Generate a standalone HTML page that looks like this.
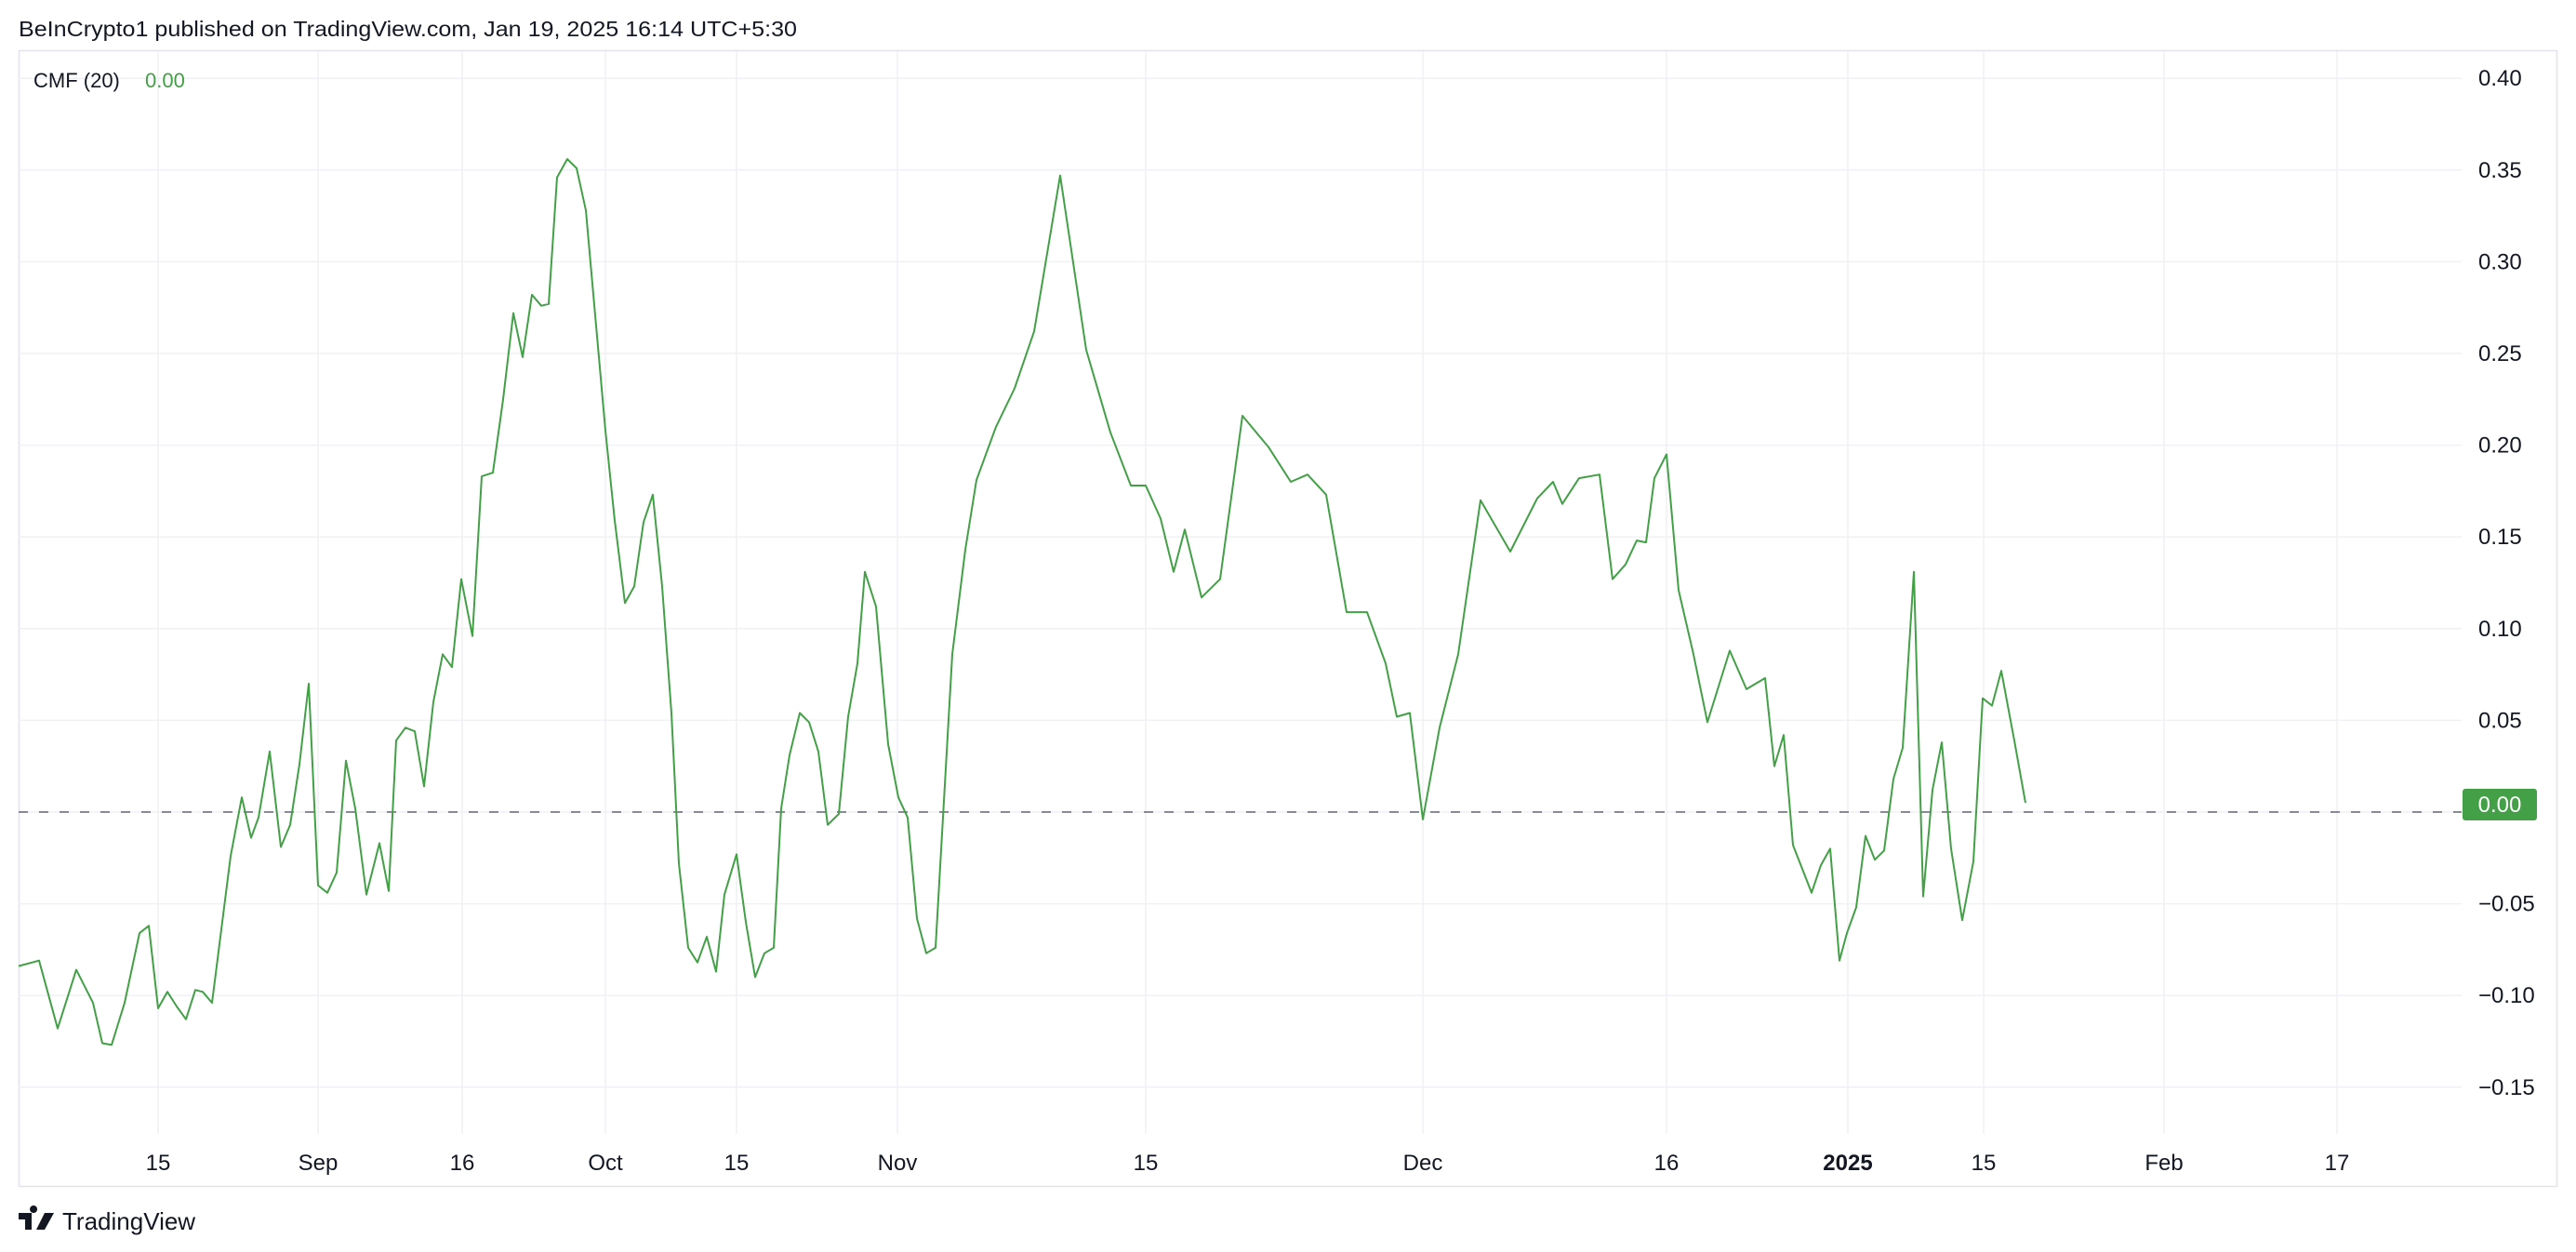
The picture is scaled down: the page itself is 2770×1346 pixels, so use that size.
<!DOCTYPE html>
<html><head><meta charset="utf-8"><style>
html,body{margin:0;padding:0;background:#fff;}
svg{display:block;font-family:"Liberation Sans",Arial,sans-serif;}
</style></head><body>
<svg id="chart" width="2770" height="1346" viewBox="0 0 2770 1346" xmlns="http://www.w3.org/2000/svg">
<rect x="0" y="0" width="2770" height="1346" fill="#fff"/>
<text x="20" y="39" font-size="23" fill="#131722" textLength="837" lengthAdjust="spacingAndGlyphs">BeInCrypto1 published on TradingView.com, Jan 19, 2025 16:14 UTC+5:30</text>
<rect x="20.5" y="54.5" width="2729" height="1221" fill="none" stroke="#e0e3eb" stroke-width="1.5"/>
<g id="grid"></g>
<g id="yaxis"></g>
<g id="xaxis"></g>
<line x1="20" x2="2647" y1="873" y2="873" stroke="#787b86" stroke-width="1.8" stroke-dasharray="10 12"/>
<path id="cmf-line" fill="none" stroke="#43a047" stroke-width="2" stroke-linejoin="round"/>
<text x="36" y="94" font-size="22" fill="#131722">CMF (20)</text>
<text x="156" y="94" font-size="22" fill="#43a047">0.00</text>
<g>
<rect x="2648" y="848" width="80" height="34" rx="3" fill="#43a047"/>
<text x="2688" y="873" font-size="24" fill="#fff" text-anchor="middle">0.00</text>
</g>
<g>
<path d="M20 1304 h14 v18 h-7 v-11 h-7z M36 1304 a4 4 0 1 1 0.1 0z M48 1304 h10 l-10 18 h-9z" fill="#131722"/>
<text x="67" y="1322" font-size="26" fill="#131722">TradingView</text>
</g>
</svg>
<script>
const slots = [0.0,2.2,4.2,6.2,8.0,9.0,10.0,11.4,13.0,14.0,15.0,16.0,17.0,18.0,19.0,19.8,20.8,22.8,24.0,25.0,25.8,27.0,28.2,29.2,30.2,31.2,32.2,33.2,34.2,35.2,36.2,37.4,38.8,39.8,40.6,41.6,42.6,43.6,44.6,45.6,46.6,47.6,48.8,49.8,51.0,52.1,53.2,54.2,55.2,56.2,57.0,57.9,59.0,60.0,61.0,63.1,64.1,65.2,66.2,67.2,68.2,69.2,70.2,71.0,72.0,73.0,74.0,75.0,75.9,77.2,78.2,79.2,80.2,81.2,82.0,82.9,84.0,85.0,86.0,87.0,88.2,89.2,90.2,91.0,92.2,93.5,94.6,95.6,96.6,97.6,98.6,100.4,101.8,103.0,105.1,107.1,109.2,112.0,114.8,117.4,119.6,121.2,122.8,124.2,125.4,127.2,129.2,131.6,134.4,136.8,138.6,140.6,142.8,145.0,147.0,148.2,149.6,151.0,152.8,154.8,157.2,160.4,163.3,165.0,166.0,167.8,170.0,171.4,172.8,174.0,175.0,175.9,177.2,178.5,180.1,181.6,184.0,185.8,187.8,188.8,189.8,190.8,192.8,193.8,194.8,195.8,196.6,197.6,198.6,199.6,200.6,201.6,202.6,203.8,204.8,205.8,206.8,207.8,209.0,210.2,211.2,212.2,213.2,214.6,215.8];
const cmfValues = [-0.084,-0.081,-0.118,-0.086,-0.104,-0.126,-0.127,-0.104,-0.066,-0.062,-0.107,-0.098,-0.106,-0.113,-0.097,-0.098,-0.104,-0.024,0.008,-0.014,-0.003,0.033,-0.019,-0.007,0.026,0.070,-0.040,-0.044,-0.033,0.028,0.002,-0.045,-0.017,-0.043,0.039,0.046,0.044,0.014,0.060,0.086,0.079,0.127,0.096,0.183,0.185,0.225,0.272,0.248,0.282,0.276,0.277,0.346,0.356,0.351,0.328,0.208,0.159,0.114,0.123,0.158,0.173,0.123,0.054,-0.028,-0.074,-0.082,-0.068,-0.087,-0.045,-0.023,-0.060,-0.090,-0.077,-0.074,0.002,0.031,0.054,0.049,0.033,-0.007,-0.001,0.052,0.081,0.131,0.112,0.037,0.008,-0.003,-0.058,-0.077,-0.074,0.086,0.143,0.181,0.210,0.231,0.262,0.347,0.252,0.207,0.178,0.178,0.160,0.131,0.154,0.117,0.127,0.216,0.199,0.180,0.184,0.173,0.109,0.109,0.081,0.052,0.054,-0.004,0.046,0.086,0.170,0.142,0.171,0.180,0.168,0.182,0.184,0.127,0.135,0.148,0.147,0.182,0.195,0.121,0.086,0.049,0.088,0.067,0.073,0.025,0.042,-0.018,-0.044,-0.029,-0.020,-0.081,-0.066,-0.052,-0.013,-0.026,-0.021,0.018,0.035,0.131,-0.046,0.012,0.038,-0.020,-0.059,-0.027,0.062,0.058,0.077,0.039,0.005];
const yTicks = [0.40,0.35,0.30,0.25,0.20,0.15,0.10,0.05,0.00,-0.05,-0.10,-0.15];
const xTickLabels = ["15","Sep","16","Oct","15","Nov","15","Dec","16","2025","15","Feb","17"];
const xTickSlots = [15,32.2,47.7,63.1,77.2,94.5,121.2,151,177.2,196.7,211.3,230.7,249.3];

const NS = "http://www.w3.org/2000/svg";
function xs(s){ return 20 + s*10; }
function ys(v){ return 873 - v*1972; }
function mk(tag, attrs, parent){ const e=document.createElementNS(NS,tag); for(const k in attrs) e.setAttribute(k,attrs[k]); parent.appendChild(e); return e; }

const grid = document.getElementById('grid');
const yaxis = document.getElementById('yaxis');
const xaxis = document.getElementById('xaxis');
yTicks.forEach(v=>{
  const y = ys(v);
  const gl = mk('line',{x1:20,x2:2647,y1:y,y2:y,stroke:'#f0f1f4','stroke-width':1.5},grid);
  
  
  if (Math.abs(v) > 1e-9) {
    const t = mk('text',{x:2665,y:y+8,'font-size':24,fill:'#131722'},yaxis);
    t.textContent = (v<0?'\u22120':'')+(v<0?Math.abs(v).toFixed(2).slice(1):v.toFixed(2));
    
    
  }
});
xTickSlots.forEach((s,i)=>{
  const x = xs(s);
  const gl = mk('line',{x1:x,x2:x,y1:55,y2:1219,stroke:'#f0f1f4','stroke-width':1.5},grid);
  
  
  const t = mk('text',{x:x,y:1258,'font-size':24,fill:'#131722','text-anchor':'middle'},xaxis);
  if (xTickLabels[i]==='2025') t.setAttribute('font-weight','bold');
  t.textContent = xTickLabels[i];
  
  
});
let d='';
slots.forEach((s,i)=>{ d += (i?'L':'M') + xs(s).toFixed(1) + ' ' + ys(cmfValues[i]).toFixed(1) + ' '; });
document.getElementById('cmf-line').setAttribute('d', d);
</script>
</body></html>
